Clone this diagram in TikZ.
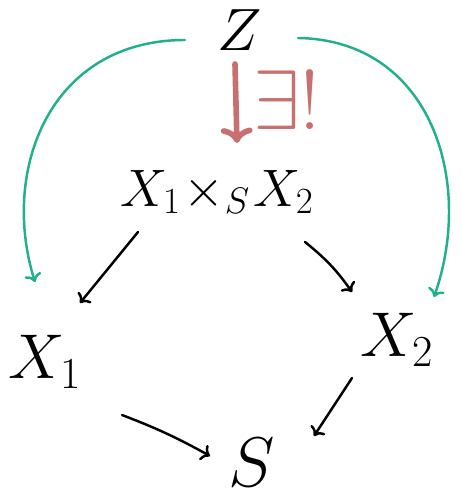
\documentclass[tikz,border=0pt]{standalone}
\usepackage{fix-cm}
\usetikzlibrary{arrows.meta}
\definecolor{mapgreen}{RGB}{32,176,140}
\definecolor{mapred}{RGB}{200,112,112}
\begin{document}
\begin{tikzpicture}[x=0.02cm, y=-0.02cm, line cap=round]
        \useasboundingbox (0, 0) rectangle (462, 497);
        % Objects
        \node[inner sep=1pt] (z) at (240, 30) {\fontsize{34}{34}\selectfont $Z$};
        \node (prod) at (217, 192) {\fontsize{30}{30}\selectfont $X_1 \!\times_S\! X_2$};
        \node (xa) at (45, 362) {\fontsize{36}{36}\selectfont $X_1$};
        \node (xb) at (397, 340) {\fontsize{36}{36}\selectfont $X_2$};
        \node (s) at (252, 462) {\fontsize{40}{40}\selectfont $S$};

        % Square
        \draw[->, line width=1.4pt] ([shift={(-79, 40)}]prod.center) -- ([shift={(35, -59)}]xa.center);
        \draw[->, line width=1.4pt] ([shift={(88, 50)}]prod.center) to[bend left=8] ([shift={(-45, -48)}]xb.center);
        \draw[->, line width=1.4pt] ([shift={(77, 53)}]xa.center) to[bend left=4] ([shift={(-42, -6)}]s.center);
        \draw[->, line width=1.4pt] ([shift={(-45, 38)}]xb.center) -- ([shift={(62, -26)}]s.center);

        % Universal property
        \draw[->, mapgreen, line width=1.4pt] ([shift={(-55, 10)}]z.center) .. controls (50, 40) and (0, 170) .. ([shift={(-10, -80)}]xa.center);
        \draw[->, mapgreen, line width=1.4pt] ([shift={(58, 8)}]z.center) .. controls (430, 40) and (475, 180) .. ([shift={(37, -43)}]xb.center);
        \draw[->, mapred, line width=3.2pt] ([shift={(-5, 34)}]z.center) -- ([shift={(20, -49)}]prod.center);
        \node[mapred] (ex) at (287, 100) {\fontsize{48}{48}\selectfont $\exists!$};
\end{tikzpicture}
\end{document}
